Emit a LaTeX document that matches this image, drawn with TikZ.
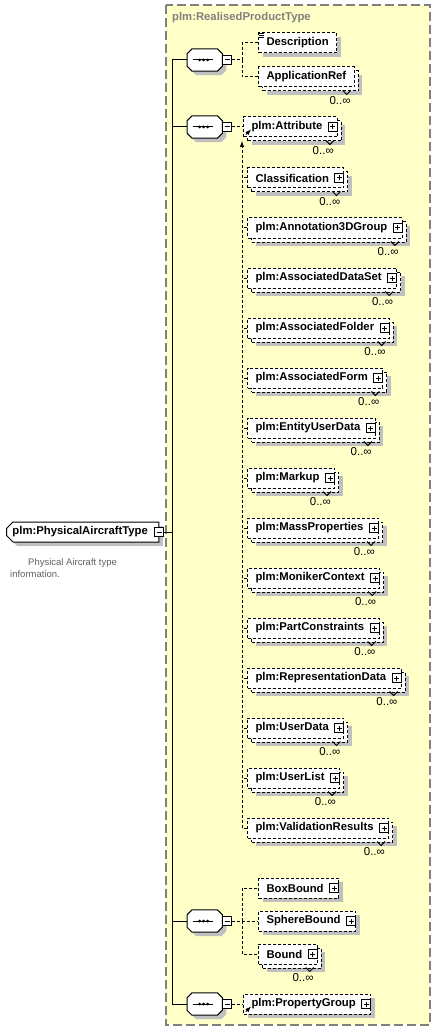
\documentclass[tikz,border=0pt]{standalone}
\usepackage{fontspec}
\setmainfont{Liberation Sans}
\usepackage{tikz}
\usetikzlibrary{shapes.misc}
\usetikzlibrary{shadows}
\usetikzlibrary{arrows}
\definecolor{ctyellow}{RGB}{255,255,200}
\definecolor{ctborder}{RGB}{128,128,128}
\definecolor{shadowgray}{RGB}{192,192,192}
\definecolor{doctext}{RGB}{96,96,96}
\newcommand{\elfont}{\fontsize{11.3}{13}\selectfont\bfseries}
\newcommand{\occfont}{\fontsize{11.5}{13}\selectfont}
\newcommand{\docfont}{\fontsize{9.5}{11}\selectfont}
\tikzset{
  shade4/.style={drop shadow={shadow xshift=4pt, shadow yshift=-4pt, fill=shadowgray, opacity=1}},
  elem/.style={draw, line width=1pt, dash pattern=on 3pt off 2pt, fill=white, anchor=west,
    minimum height=20pt, inner xsep=8pt, inner ysep=0pt, font=\elfont, shade4},
  multi/.style={drop shadow={shadow xshift=8pt, shadow yshift=-8pt, fill=shadowgray, opacity=1},
    copy shadow={shadow xshift=4pt, shadow yshift=-4pt, draw=black, fill=white,
      line width=1pt, dash pattern=on 3pt off 2pt, opacity=1}},
  topel/.style={chamfered rectangle, chamfered rectangle corners={north west,south west},
    chamfered rectangle xsep=3pt, draw, line width=1pt, fill=white, anchor=west,
    minimum height=20pt, inner xsep=3pt, inner ysep=0pt, font=\elfont, shade4},
  seq/.style={rectangle, anchor=west, minimum width=35pt, minimum height=22pt, inner sep=0pt},
  seqline/.style={draw, line width=1pt, fill=white, shade4},
  minusbox/.style={draw, line width=1pt, fill=white, minimum size=9pt, inner sep=0pt,
    path picture={\draw[line width=1pt] ([xshift=2pt]path picture bounding box.west)
      -- ([xshift=-2pt]path picture bounding box.east);}},
  plusbox/.style={draw, line width=1pt, fill=white, minimum size=9pt, inner sep=0pt,
    path picture={\draw[line width=1pt] ([xshift=2pt]path picture bounding box.west)
      -- ([xshift=-2pt]path picture bounding box.east)
      ([yshift=2pt]path picture bounding box.south) -- ([yshift=-2pt]path picture bounding box.north);}},
  conn/.style={line width=1pt, dash pattern=on 3pt off 2pt},
  link/.style={line width=1pt},
  notch/.style={line width=1pt},
  occ/.style={font=\occfont, inner sep=0pt, anchor=base east},
  refmark/.style={line width=1pt, -latex},
}

\begin{document}
\begin{tikzpicture}[x=1pt,y=-1pt]
  \useasboundingbox (0,0) rectangle (435,1032);
  % complex type frame
  \draw[ctborder, line width=1.5pt, dash pattern=on 9pt off 4pt, fill=ctyellow] (166,5) rectangle (430,1025);
  \node[anchor=west, font=\elfont, text=ctborder, inner sep=0pt] (cttitle) at (172,18) {plm:RealisedProductType};

  % the element itself
  \node[topel] (pat) at (6,532) {plm:PhysicalAircraftType\kern5pt};
  \node[minusbox] (pat-m) at (pat.east) {};
  \node[anchor=north west, align=left, font=\docfont, text=doctext, inner sep=0pt] (pat-doc) at (10,558)
    {\hspace*{18pt}Physical Aircraft type\\[1pt]information.};
  \coordinate (trunk) at (172,532);
  \draw[link] (pat-m.east) -- (trunk);

  % sequences
  \foreach \s/\y in {seqA/60, seqB/127, seqC/921, seqD/1004} {
    \node[seq] (\s) at (187,\y) {};
    \draw[seqline] ([xshift=5pt]\s.north west) -- ([xshift=-5pt]\s.north east)
      -- ([yshift=-5pt]\s.north east) -- ([yshift=5pt]\s.south east)
      -- ([xshift=-5pt]\s.south east) -- ([xshift=5pt]\s.south west)
      -- ([yshift=5pt]\s.south west) -- ([yshift=-5pt]\s.north west) -- cycle;
    \draw[line width=1pt] ([xshift=-12pt]\s.center) -- ([xshift=8pt]\s.center);
    \foreach \d in {-5,-1,3}
      \fill ([xshift=\d pt]\s.center) circle (1.5pt);
    \node[minusbox, anchor=west] (\s-m) at (\s.east) {};
    \draw[link] (\s.west) -| (trunk);
  }

  % first sequence
  \node[elem] (desc) at (258,43) {Description};
  \foreach \k in {0.5,2.5,4.5}
    \draw[line width=0.8pt] ([shift={(1,\k)}]desc.north west) -- ++(5,0);
  \node[elem, multi] (appref) at (258,77) {ApplicationRef};
  \draw[notch] ([shift={(-12,3)}]appref.south east) -- ++(4,4) -- ++(4,-4);
  \node[occ] (appref-o) at ([shift={(-4,17)}]appref.south east) {0..∞};
  \coordinate (hubA) at (242,60);
  \draw[conn] (seqA-m.east) -- (hubA) |- (desc.west);
  \draw[conn] (hubA) |- (appref.west);

  % second sequence: substitution group head
  \node[elem, multi] (attr) at (243,127) {plm:Attribute\kern7pt};
  \node[plusbox] (attr-p) at ([xshift=-5pt]attr.east) {};
  \draw[refmark] ([shift={(3,-3)}]attr.south west) -- ++(5,-5);
  \draw[notch] ([shift={(-12,3)}]attr.south east) -- ++(4,4) -- ++(4,-4);
  \node[occ] (attr-o) at ([shift={(-4,17)}]attr.south east) {0..∞};
  \draw[conn] (seqB-m.east) -- (attr.west);
  \coordinate (subst) at (242,141);

  \foreach \nm/\y/\lab in {
    cls/178/Classification,
    ann/228/plm:Annotation3DGroup,
    ads/278/plm:AssociatedDataSet,
    afo/328/plm:AssociatedFolder,
    afm/378/plm:AssociatedForm,
    eud/428/plm:EntityUserData,
    mku/478/plm:Markup,
    mpr/528/plm:MassProperties,
    mon/578/plm:MonikerContext,
    pcn/628/plm:PartConstraints,
    rep/678/plm:RepresentationData,
    usd/728/plm:UserData,
    usl/778/plm:UserList,
    val/828/plm:ValidationResults%
  } {
    \node[elem, multi] (\nm) at (247,\y) {\lab\kern7pt};
    \node[plusbox] (\nm-p) at ([xshift=-5pt]\nm.east) {};
    \draw[notch] ([shift={(-12,3)}]\nm.south east) -- ++(4,4) -- ++(4,-4);
    \node[occ] (\nm-o) at ([shift={(-4,17)}]\nm.south east) {0..∞};
    \draw[conn] (\nm.west) -- (\nm.west -| subst);
  }
  \draw[conn, ->, >=latex] (val.west -| subst) -- (subst);

  % third sequence
  \node[elem] (boxb) at (258,888) {BoxBound\kern7pt};
  \node[plusbox] (boxb-p) at ([xshift=-5pt]boxb.east) {};
  \node[elem] (sphb) at (258,921) {SphereBound\kern7pt};
  \node[plusbox] (sphb-p) at ([xshift=-5pt]sphb.east) {};
  \node[elem, multi] (bnd) at (258,954) {Bound\kern7pt};
  \node[plusbox] (bnd-p) at ([xshift=-5pt]bnd.east) {};
  \draw[notch] ([shift={(-12,3)}]bnd.south east) -- ++(4,4) -- ++(4,-4);
  \node[occ] (bnd-o) at ([shift={(-4,17)}]bnd.south east) {0..∞};
  \coordinate (hubC) at (242,921);
  \draw[conn] (seqC-m.east) -- (sphb.west);
  \draw[conn] (hubC) |- (boxb.west);
  \draw[conn] (hubC) |- (bnd.west);

  % fourth sequence
  \node[elem] (pgrp) at (243,1004) {plm:PropertyGroup\kern7pt};
  \node[plusbox] (pgrp-p) at ([xshift=-5pt]pgrp.east) {};
  \draw[refmark] ([shift={(3,-3)}]pgrp.south west) -- ++(5,-5);
  \draw[conn] (seqD-m.east) -- (pgrp.west);
\end{tikzpicture}
\end{document}
